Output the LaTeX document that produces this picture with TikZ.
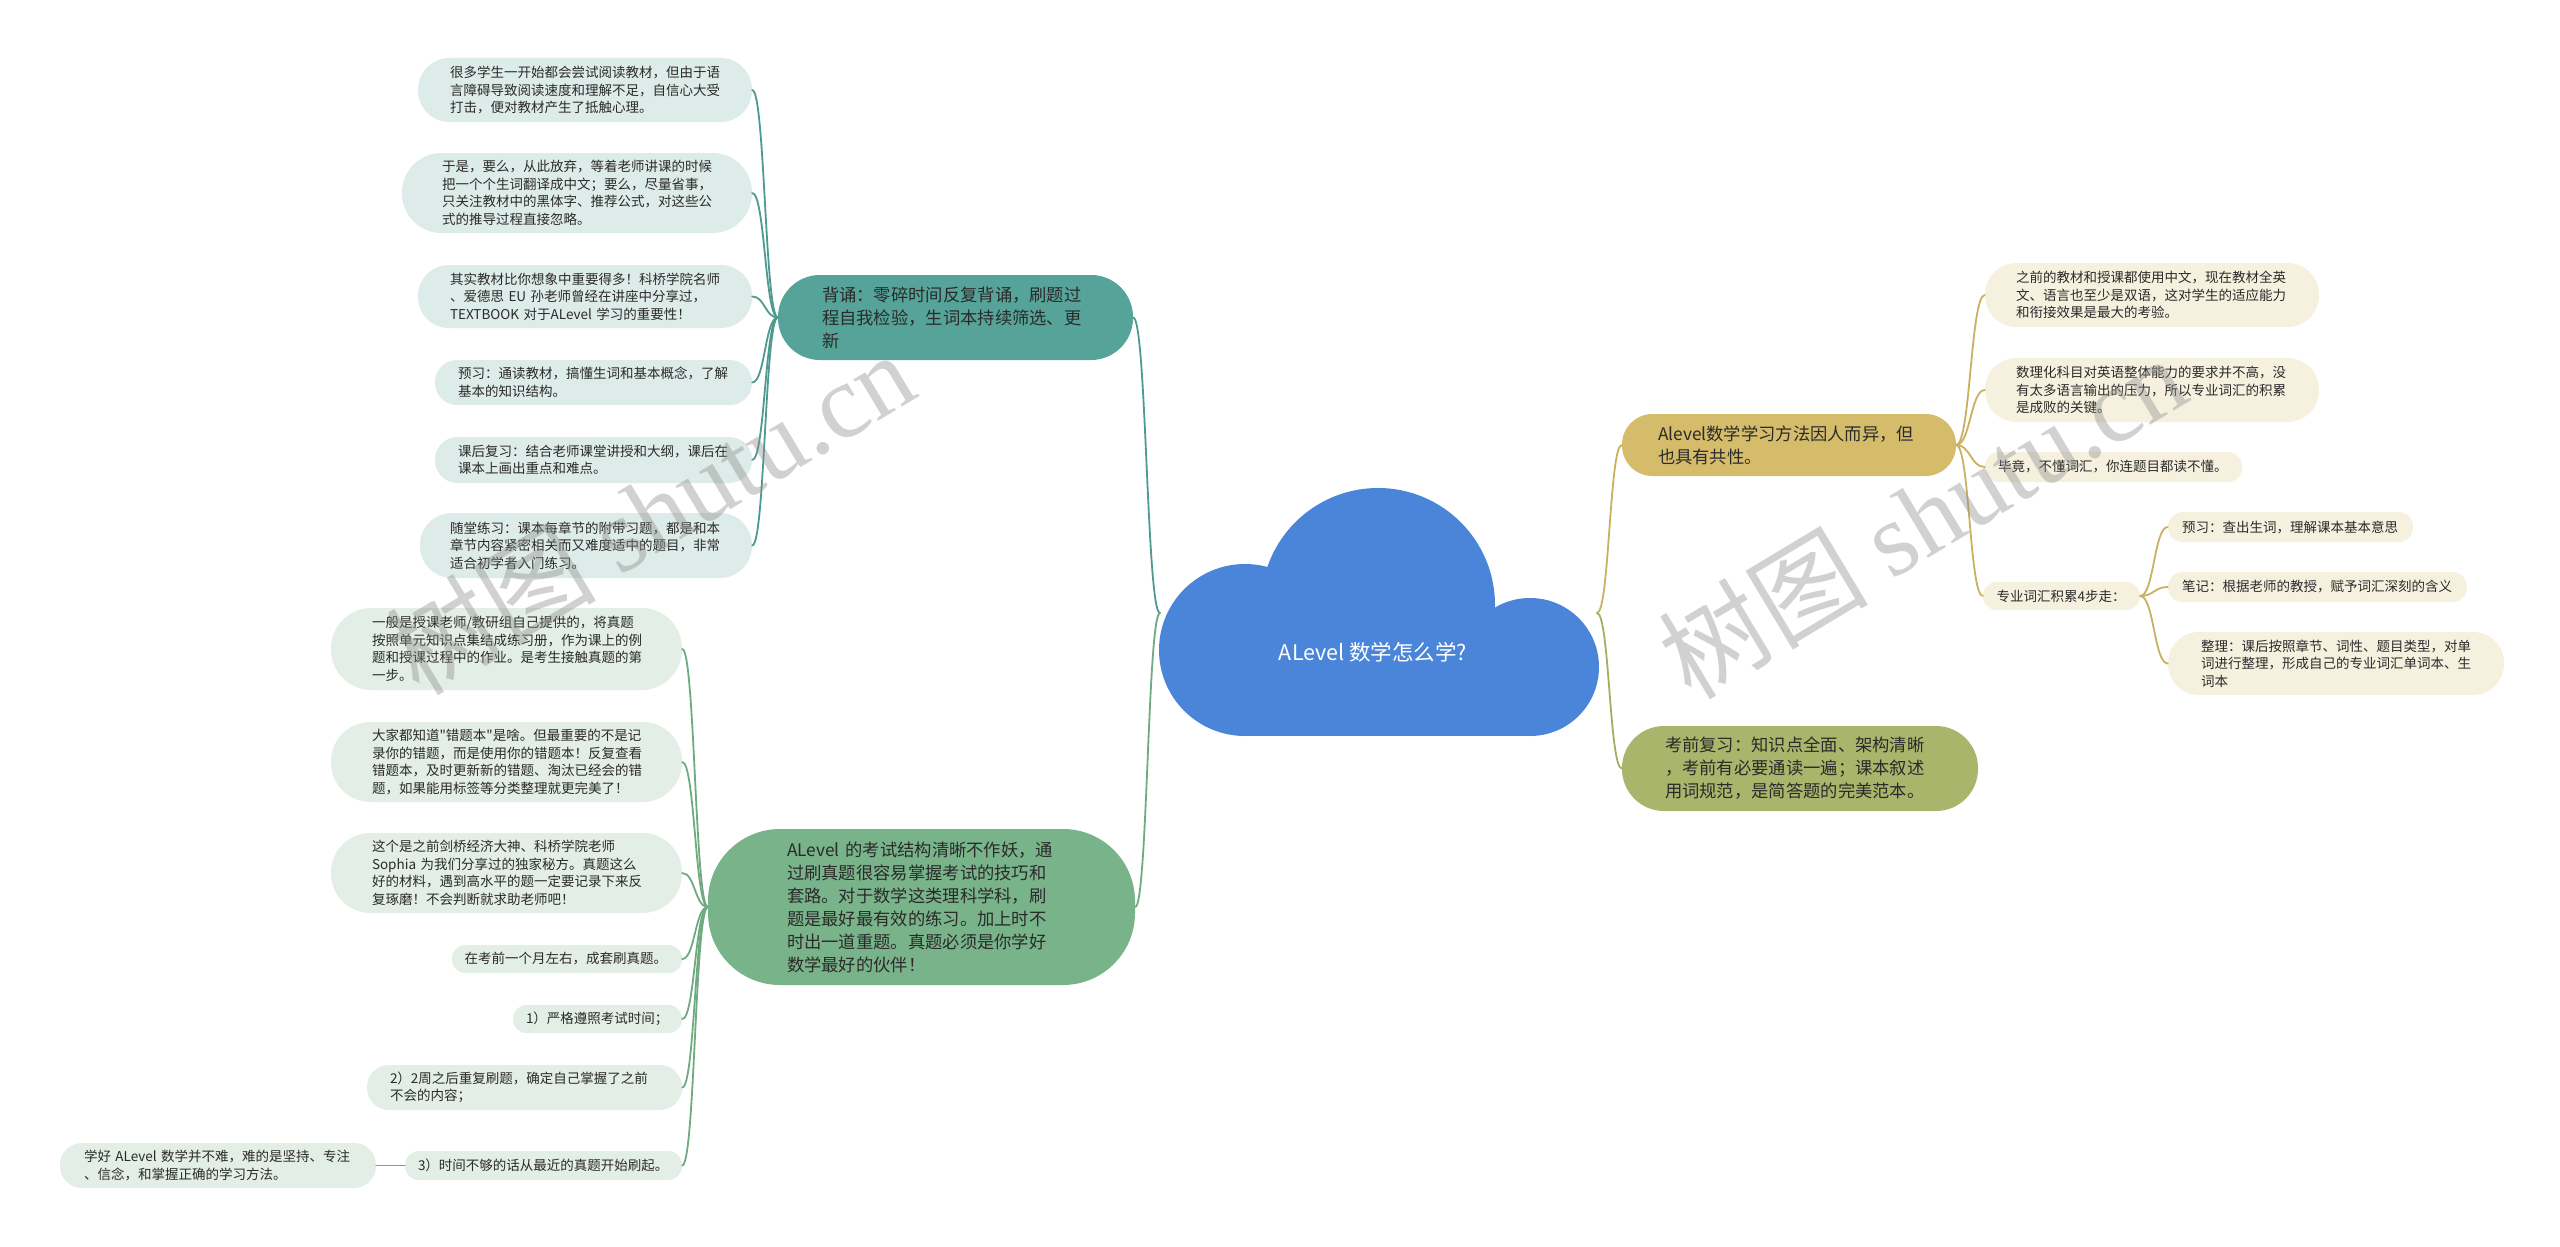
\documentclass[tikz,border=0pt]{standalone}
\usepackage{fontspec}
\setmainfont{Noto Sans CJK SC}
\newfontfamily\plainq{Noto Sans CJK SC}
\newfontfamily\wmlatin{Liberation Serif}
\usetikzlibrary{calc}

\definecolor{cloudblue}{HTML}{4A85D9}
\definecolor{tealN}{HTML}{56A399}
\definecolor{tealL}{HTML}{DEECE9}
\definecolor{tealC}{HTML}{4F9A8F}
\definecolor{greenN}{HTML}{79B38A}
\definecolor{greenL}{HTML}{E3EEE6}
\definecolor{greenC}{HTML}{6FAA81}
\definecolor{goldN}{HTML}{D4BC6A}
\definecolor{goldL}{HTML}{F6F1DF}
\definecolor{goldC}{HTML}{C9B160}
\definecolor{oliveN}{HTML}{A9B56B}
\definecolor{oliveC}{HTML}{A2AF60}
\definecolor{txt}{HTML}{2A2A2A}
\definecolor{wmgray}{HTML}{8C8C8C}

\tikzset{
  box/.style={inner sep=0pt, align=left, text=txt},
  leaf/.style={box, font=\fontsize{13.5pt}{17.5pt}\selectfont},
  mainn/.style={box, font=\fontsize{17.3pt}{23pt}\selectfont},
  conn/.style={line width=1.8pt, line cap=round},
  wm/.style={rotate=31, text=wmgray, opacity=0.4, font=\fontsize{105pt}{105pt}\selectfont},
}

\newcommand\mmlink[3]{\draw[conn,#1] let \p1=(#2), \p2=(#3) in (\p1) .. controls ({(\x1+\x2)/2},\y1) and ({(\x1+\x2)/2},\y2) .. (\p2);}

\begin{document}
\begin{tikzpicture}[x=1pt,y=-1pt]
\useasboundingbox (0,0) rectangle (2560,1247);
\fill[white] (0,0) rectangle (2560,1247);

% ---------- cloud ----------
\fill[cloudblue] (1245,650) circle[radius=86];
\fill[cloudblue] (1378,605) circle[radius=117];
\fill[cloudblue] (1530,667) circle[radius=69];
\fill[cloudblue] (1245,612) rectangle (1530,736);
\node[font=\fontsize{21.5pt}{25pt}\selectfont, text=white, inner sep=0pt] (root) at (1373,652) {ALevel 数学怎么学?};
\coordinate (cL) at (1160,613);
\coordinate (cR) at (1597,613);

% ---------- teal branch ----------
\node[mainn, fill=tealN, minimum width=355pt, minimum height=85pt, rounded corners=42pt, text width=267pt] (T) at (955.5,317.5)
 {背诵：零碎时间反复背诵，刷题过\\程自我检验，生词本持续筛选、更\\新};
\node[leaf, fill=tealL, minimum width=334pt, minimum height=64pt, rounded corners=31.5pt, text width=270pt] (L1) at (585,90)
 {很多学生一开始都会尝试阅读教材，但由于语\\言障碍导致阅读速度和理解不足，自信心大受\\打击，便对教材产生了抵触心理。};
\node[leaf, fill=tealL, minimum width=350pt, minimum height=80pt, rounded corners=39.5pt, text width=270pt] (L2) at (577,193)
 {于是，要么，从此放弃，等着老师讲课的时候\\把一个个生词翻译成中文；要么，尽量省事，\\只关注教材中的黑体字、推荐公式，对这些公\\式的推导过程直接忽略。};
\node[leaf, fill=tealL, minimum width=334pt, minimum height=63pt, rounded corners=31pt, text width=270pt] (L3) at (585,296.5)
 {其实教材比你想象中重要得多！科桥学院名师\\、爱德思 EU 孙老师曾经在讲座中分享过，\\TEXTBOOK 对于ALevel 学习的重要性！};
\node[leaf, fill=tealL, minimum width=317pt, minimum height=45pt, rounded corners=22pt, text width=271pt] (L4) at (593.5,382.5)
 {预习：通读教材，搞懂生词和基本概念，了解\\基本的知识结构。};
\node[leaf, fill=tealL, minimum width=317pt, minimum height=46pt, rounded corners=22.5pt, text width=271pt] (L5) at (593.5,460)
 {课后复习：结合老师课堂讲授和大纲，课后在\\课本上画出重点和难点。};
\node[leaf, fill=tealL, minimum width=332pt, minimum height=65pt, rounded corners=32pt, text width=272pt] (L6) at (586,545.5)
 {随堂练习：课本每章节的附带习题，都是和本\\章节内容紧密相关而又难度适中的题目，非常\\适合初学者入门练习。};

% ---------- green branch ----------
\node[mainn, fill=greenN, minimum width=427pt, minimum height=156pt, rounded corners=72pt, text width=269pt] (G) at (921.5,907)
 {ALevel 的考试结构清晰不作妖，通\\过刷真题很容易掌握考试的技巧和\\套路。对于数学这类理科学科，刷\\题是最好最有效的练习。加上时不\\时出一道重题。真题必须是你学好\\数学最好的伙伴！};
\node[leaf, fill=greenL, minimum width=351pt, minimum height=82pt, rounded corners=40.5pt, text width=269pt] (G1) at (506.5,649)
 {一般是授课老师/教研组自己提供的，将真题\\按照单元知识点集结成练习册，作为课上的例\\题和授课过程中的作业。是考生接触真题的第\\一步。};
\node[leaf, fill=greenL, minimum width=351pt, minimum height=80pt, rounded corners=39.5pt, text width=269pt] (G2) at (506.5,762)
 {大家都知道{\plainq "}错题本{\plainq "}是啥。但最重要的不是记\\录你的错题，而是使用你的错题本！反复查看\\错题本，及时更新新的错题、淘汰已经会的错\\题，如果能用标签等分类整理就更完美了！};
\node[leaf, fill=greenL, minimum width=351pt, minimum height=80pt, rounded corners=39.5pt, text width=269pt] (G3) at (506.5,873)
 {这个是之前剑桥经济大神、科桥学院老师\\Sophia 为我们分享过的独家秘方。真题这么\\好的材料，遇到高水平的题一定要记录下来反\\复琢磨！不会判断就求助老师吧！};
\node[leaf, fill=greenL, minimum width=230pt, minimum height=28pt, rounded corners=13.5pt, text width=205pt] (G4) at (567,959)
 {在考前一个月左右，成套刷真题。};
\node[leaf, fill=greenL, minimum width=169pt, minimum height=28pt, rounded corners=13.5pt, text width=143pt] (G5) at (597.5,1019)
 {1）严格遵照考试时间；};
\node[leaf, fill=greenL, minimum width=315pt, minimum height=45pt, rounded corners=22pt, text width=269pt] (G6) at (524.5,1087.5)
 {2）2周之后重复刷题，确定自己掌握了之前\\不会的内容；};
\node[leaf, fill=greenL, minimum width=277pt, minimum height=29pt, rounded corners=14pt, text width=251pt] (G7) at (543.5,1165.5)
 {3）时间不够的话从最近的真题开始刷起。};
\node[leaf, fill=greenL, minimum width=316pt, minimum height=45pt, rounded corners=22pt, text width=268pt] (F) at (218,1165.5)
 {学好 ALevel 数学并不难，难的是坚持、专注\\、信念，和掌握正确的学习方法。};

% ---------- gold branch ----------
\node[mainn, fill=goldN, minimum width=334pt, minimum height=62pt, rounded corners=30.5pt, text width=262pt] (Y) at (1789,445)
 {Alevel数学学习方法因人而异，但\\也具有共性。};
\node[leaf, fill=goldL, minimum width=334pt, minimum height=64pt, rounded corners=31.5pt, text width=272pt] (R1) at (2152,295)
 {之前的教材和授课都使用中文，现在教材全英\\文、语言也至少是双语，这对学生的适应能力\\和衔接效果是最大的考验。};
\node[leaf, fill=goldL, minimum width=334pt, minimum height=64pt, rounded corners=31.5pt, text width=272pt] (R2) at (2152,390)
 {数理化科目对英语整体能力的要求并不高，没\\有太多语言输出的压力，所以专业词汇的积累\\是成败的关键。};
\node[leaf, fill=goldL, minimum width=257pt, minimum height=30pt, rounded corners=14.5pt, text width=231pt] (R3) at (2113.5,467)
 {毕竟，不懂词汇，你连题目都读不懂。};
\node[leaf, fill=goldL, minimum width=157pt, minimum height=28pt, rounded corners=13.5pt, text width=130pt] (R4) at (2061.5,596)
 {专业词汇积累4步走：};
\node[leaf, fill=goldL, minimum width=245pt, minimum height=30pt, rounded corners=14.5pt, text width=217pt] (R4a) at (2290.5,527)
 {预习：查出生词，理解课本基本意思};
\node[leaf, fill=goldL, minimum width=299pt, minimum height=30pt, rounded corners=14.5pt, text width=271pt] (R4b) at (2317.5,587)
 {笔记：根据老师的教授，赋予词汇深刻的含义};
\node[leaf, fill=goldL, minimum width=336pt, minimum height=63pt, rounded corners=31pt, text width=270pt] (R4c) at (2336,663.5)
 {整理：课后按照章节、词性、题目类型，对单\\词进行整理，形成自己的专业词汇单词本、生\\词本};

% ---------- olive branch ----------
\node[mainn, fill=oliveN, minimum width=356pt, minimum height=85pt, rounded corners=42pt, text width=270pt] (O) at (1800,768.5)
 {考前复习：知识点全面、架构清晰\\，考前有必要通读一遍；课本叙述\\用词规范，是简答题的完美范本。};

% ---------- connectors ----------
\mmlink{tealC}{cL}{T.east}
\foreach \nm in {L1,L2,L3,L4,L5,L6} {\mmlink{tealC}{T.west}{\nm.east}}
\mmlink{greenC}{cL}{G.east}
\foreach \nm in {G1,G2,G3,G4,G5,G6,G7} {\mmlink{greenC}{G.west}{\nm.east}}
\draw[conn,greenC] (G7.west) -- (F.east);
\mmlink{goldC}{cR}{Y.west}
\foreach \nm in {R1,R2,R3,R4} {\mmlink{goldC}{Y.east}{\nm.west}}
\foreach \nm in {R4a,R4b,R4c} {\mmlink{goldC}{R4.east}{\nm.west}}
\mmlink{oliveC}{cR}{O.west}

% ---------- watermarks ----------
\node[wm] (wm1) at (650,512) {树图 {\wmlatin shutu.cn}};
\node[wm] (wm2) at (1922,516) {树图 {\wmlatin shutu.cn}};
\end{tikzpicture}
\end{document}
